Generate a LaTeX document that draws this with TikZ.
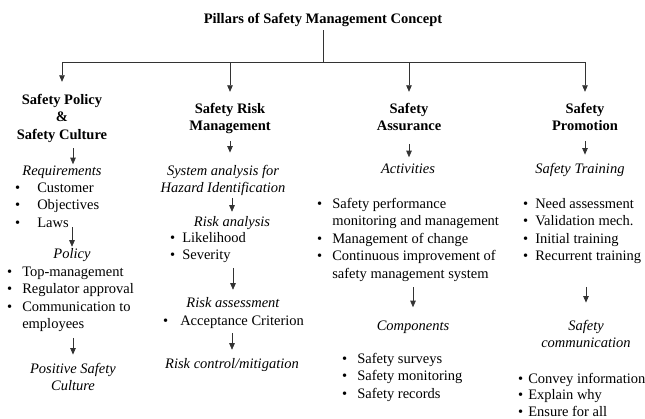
\documentclass[tikz,border=0pt]{standalone}
\usepackage{fontspec}
\setmainfont{Liberation Serif}
\usetikzlibrary{arrows.meta}

\newcommand{\cellstack}[1]{\begin{tabular}[t]{@{}c@{}}#1\end{tabular}}
\newcommand{\itemcol}[2]{\begin{tabular}[t]{@{}l@{\hspace{#1}}l@{}}#2\end{tabular}}

\tikzset{
  txt/.style={inner sep=0pt, anchor=base, font=\fontsize{14.5}{17.5}\selectfont},
  pillar/.style={txt, font=\fontsize{14.5}{17.5}\selectfont\bfseries},
  stage/.style={txt, font=\fontsize{14.5}{17.5}\selectfont\itshape},
  items/.style={txt, anchor=base west},
  link/.style={draw=black!80, line width=0.7pt},
  tip/.style={link, -{Triangle[width=5.5pt,length=6.5pt]}},
}

\begin{document}
\begin{tikzpicture}[x=1pt, y=-1pt]
    \useasboundingbox (0,0) rectangle (645,418);

    % Title and tree
    \node[pillar] (title) at (323, 23) {Pillars of Safety Management Concept};
    \coordinate (hub) at (324, 62);

    \node[pillar] (hd1) at (62, 104) {\cellstack{Safety Policy\\\&\\Safety Culture}};
    \node[pillar] (hd2) at (230, 113) {\cellstack{Safety Risk\\Management}};
    \node[pillar] (hd3) at (409, 113) {\cellstack{Safety\\Assurance}};
    \node[pillar] (hd4) at (585, 113) {\cellstack{Safety\\Promotion}};

    \draw[link, shorten <=4pt] (title.south) -- (title.south |- hub);
    \draw[link] (hd1.north |- hub) -- (hd4.north |- hub);
    \foreach \h/\s in {hd1/9.75, hd2/8.75, hd3/8.75, hd4/8.75} {
        \draw[tip, shorten >=\s pt] (\h.north |- hub) -- (\h.north);
    }

    % Safety policy & culture
    \node[stage] (req) at (62, 175) {Requirements};
    \node[items] (reqlist) at (15, 192) {\itemcol{17pt}{\textbullet & Customer\\
        \textbullet & Objectives\\ \textbullet & Laws}};
    \node[stage] (pol) at (72, 258) {Policy};
    \node[items] (pollist) at (7, 276) {\itemcol{10pt}{\textbullet & Top-management\\
        \textbullet & Regulator approval\\ \textbullet & Communication to\\ & employees}};
    \node[stage] (psc) at (73, 373) {\cellstack{Positive Safety\\Culture}};

    \draw[tip, shorten <=4pt, shorten >=1pt] ([xshift=11pt]hd1.south) -- ([xshift=11pt]req.north);
    \draw[tip, shorten <=-5pt, shorten >=1pt] (reqlist.south -| pol.north) -- (pol.north);
    \draw[tip, shorten <=4pt, shorten >=6pt] (pollist.south -| psc.north) -- (psc.north);

    % Safety risk management
    \node[stage] (sys) at (223, 175) {\cellstack{System analysis for\\Hazard Identification}};
    \node[stage] (ra) at (232, 226) {Risk analysis};
    \node[items] (rlist) at (170, 242) {\itemcol{7pt}{\textbullet & Likelihood\\ \textbullet & Severity}};
    \node[stage] (rass) at (233, 307) {Risk assessment};
    \node[items] (acclist) at (163, 325) {\itemcol{12pt}{\textbullet & Acceptance Criterion}};
    \node[stage] (rc) at (232, 368) {Risk control/mitigation};

    \draw[tip, shorten <=5pt, shorten >=10pt] (hd2.south) -- (hd2.south |- sys.north);
    \draw[tip, shorten >=4pt] (sys.south -| ra.north) -- (ra.north);
    \draw[tip, shorten <=3pt, shorten >=7pt] (rlist.south -| rass.north) -- (rass.north);
    \draw[tip, shorten <=3pt, shorten >=8pt] (acclist.south -| rc.north) -- (rc.north);

    % Safety assurance
    \node[stage] (act) at (408, 173) {Activities};
    \node[items] (actlist) at (317, 208) {\itemcol{10pt}{\textbullet & Safety performance\\
        & monitoring and management\\ \textbullet & Management of change\\
        \textbullet & Continuous improvement of\\ & safety management system}};
    \node[stage] (comp) at (413, 330) {Components};
    \node[items] (complist) at (342, 363) {\itemcol{10pt}{\textbullet & Safety surveys\\
        \textbullet & Safety monitoring\\ \textbullet & Safety records}};

    \draw[tip, shorten <=8pt, shorten >=6pt] (hd3.south) -- (hd3.south |- act.north);
    \draw[tip, shorten <=4pt, shorten >=13pt] (actlist.south -| comp.north) -- (comp.north);

    % Safety promotion
    \node[stage] (st) at (580, 173) {Safety Training};
    \node[items] (trlist) at (523, 208) {\itemcol{7pt}{\textbullet & Need assessment\\
        \textbullet & Validation mech.\\ \textbullet & Initial training\\ \textbullet & Recurrent training}};
    \node[stage] (sc) at (586, 330) {\cellstack{Safety\\communication}};
    \node[items] (comlist) at (518, 383) {\renewcommand{\arraystretch}{0.943}%
        \itemcol{5pt}{\textbullet & Convey information\\
        \textbullet & Explain why\\ \textbullet & Ensure for all}};

    \draw[tip, shorten <=5pt, shorten >=8pt] (hd4.south) -- (hd4.south |- st.north);
    \draw[tip, shorten <=21pt, shorten >=15pt] (trlist.south -| sc.north) -- (sc.north);
\end{tikzpicture}
\end{document}
